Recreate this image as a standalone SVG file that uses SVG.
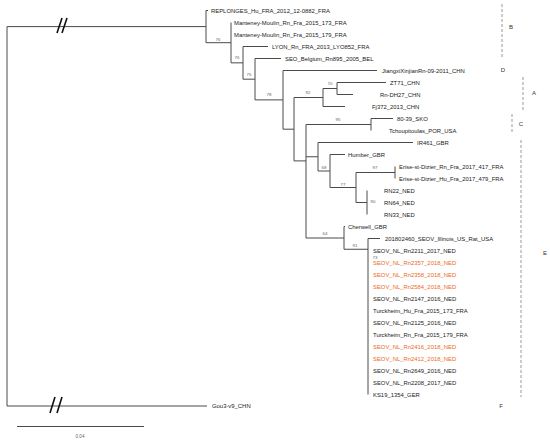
<svg xmlns="http://www.w3.org/2000/svg" width="550" height="441" viewBox="0 0 550 441">
<style>
.t{font-family:"Liberation Sans",Arial,sans-serif;font-size:5.9px;fill:#222}
.o{fill:#EE6A24}
.b{font-family:"Liberation Sans",Arial,sans-serif;font-size:4.4px;fill:#666;text-anchor:middle}
.c{font-family:"Liberation Sans",Arial,sans-serif;font-size:6px;fill:#333;text-anchor:middle}
.e{fill:none;stroke:#4a4a4a;stroke-width:1}
.d{fill:none;stroke:#999;stroke-width:1;stroke-dasharray:3 2}
.br{fill:none;stroke:#111;stroke-width:1.6}
</style>
<rect width="550" height="441" fill="#fff"/>
<g id="connectors">
<path class="e" d="M7,26.6V406M7,26.6H206M7,406H207
M206,10.5V42.7M206,10.5H208M206,42.7H231
M231,22.5V62.85M231,62.85H243
M243,46.5V79.2M243,46.5H268M243,79.2H255
M255,58.5V99.9M255,58.5H281M255,99.9H283
M283,70.5V129.2M283,70.5H377M283,129.2H294
M294,97.5V160.9M294,97.5H323
M323,88.5V106.5M323,88.5H337M323,106.5H345
M337,82.5V94.5M337,82.5H386M337,94.5H353
M294,160.9H306
M306,124.5V238M306,124.5H371
M371,118.5V130.5M371,118.5H393
M306,156.75H318
M318,142.5V171M318,142.5H413M318,171H330
M330,154.5V187.5M330,154.5H345M330,187.5H356
M356,172.5V202.5M356,172.5H395M356,202.5H367
M395,166.5V178.5
M367,190.5V214.5
M306,238H344
M344,226.5V249.25M344,226.5H345M344,249.25H368
M368,238.5V394.5M368,238.5H380"/>
<path class="br" d="M57,33L62,18M62,33L67,18M50,413L55,397M57,413L62,397"/>
<path class="e" d="M17,426.5H144" stroke="#666"/>
</g>
<g id="bootstrap">
<text class="b" x="218" y="41">76</text>
<text class="b" x="237" y="58.6">76</text>
<text class="b" x="249" y="75.6">75</text>
<text class="b" x="269" y="95.6">78</text>
<text class="b" x="308" y="93.6">92</text>
<text class="b" x="330" y="85">70</text>
<text class="b" x="338" y="120.6">95</text>
<text class="b" x="324" y="168.6">68</text>
<text class="b" x="375" y="168.6">97</text>
<text class="b" x="343" y="185.6">77</text>
<text class="b" x="373" y="202.6">90</text>
<text class="b" x="325" y="234.6">64</text>
<text class="b" x="355" y="246.6">91</text>
<text class="b" x="375" y="258.6">73</text>
</g>
<g id="leaves">
<text class="t" x="211" y="12.6">REPLONGES_Hu_FRA_2012_12-0882_FRA</text>
<text class="t" x="234" y="24.6">Manteney-Moulin_Rn_Fra_2015_173_FRA</text>
<text class="t" x="234" y="36.6">Manteney-Moulin_Rn_Fra_2015_179_FRA</text>
<text class="t" x="272" y="48.6">LYON_Rn_FRA_2013_LYO852_FRA</text>
<text class="t" x="285" y="60.6">SEO_Belgium_Rn895_2005_BEL</text>
<text class="t" x="382" y="72.6">JiangxiXinjianRn-09-2011_CHN</text>
<text class="t" x="390" y="84.6">ZT71_CHN</text>
<text class="t" x="380" y="96.6">Rn-DH27_CHN</text>
<text class="t" x="372" y="108.6">Fj372_2013_CHN</text>
<text class="t" x="397" y="120.6">80-39_SKO</text>
<text class="t" x="389" y="132.6">Tchoupitoulas_POR_USA</text>
<text class="t" x="417" y="144.6">IR461_GBR</text>
<text class="t" x="348" y="156.6">Humber_GBR</text>
<text class="t" x="399" y="168.6">Erise-st-Dizier_Rn_Fra_2017_417_FRA</text>
<text class="t" x="399" y="180.6">Erise-st-Dizier_Hu_Fra_2017_479_FRA</text>
<text class="t" x="384" y="192.6">RN22_NED</text>
<text class="t" x="384" y="204.6">RN64_NED</text>
<text class="t" x="384" y="216.6">RN33_NED</text>
<text class="t" x="348" y="228.6">Cherwell_GBR</text>
<text class="t" x="385" y="240.6">201802460_SEOV_Illinois_US_Rat_USA</text>
<text class="t" x="373" y="252.6">SEOV_NL_Rn2211_2017_NED</text>
<text class="t o" x="373" y="264.6">SEOV_NL_Rn2357_2018_NED</text>
<text class="t o" x="373" y="276.6">SEOV_NL_Rn2358_2018_NED</text>
<text class="t o" x="373" y="288.6">SEOV_NL_Rn2584_2018_NED</text>
<text class="t" x="373" y="300.6">SEOV_NL_Rn2147_2016_NED</text>
<text class="t" x="373" y="312.6">Turckheim_Hu_Fra_2015_173_FRA</text>
<text class="t" x="373" y="324.6">SEOV_NL_Rn2125_2016_NED</text>
<text class="t" x="373" y="336.6">Turckheim_Rn_Fra_2015_179_FRA</text>
<text class="t o" x="373" y="348.6">SEOV_NL_Rn2416_2018_NED</text>
<text class="t o" x="373" y="360.6">SEOV_NL_Rn2412_2018_NED</text>
<text class="t" x="373" y="372.6">SEOV_NL_Rn2649_2016_NED</text>
<text class="t" x="373" y="384.6">SEOV_NL_Rn2208_2017_NED</text>
<text class="t" x="373" y="396.6">KS19_1354_GER</text>
<text class="t" x="212" y="408.1">Gou3-v9_CHN</text>
</g>
<g id="clades">
<path class="d" d="M502,4V58M523,77V110M512,114V134M521,140V397"/>
<text class="c" x="511" y="29">B</text>
<text class="c" x="503" y="72">D</text>
<text class="c" x="534" y="95">A</text>
<text class="c" x="521" y="126">C</text>
<text class="c" x="545" y="255">E</text>
<text class="c" x="501" y="408">F</text>
</g>
<text class="b" x="80" y="438" style="font-size:4.6px">0.04</text>
</svg>
